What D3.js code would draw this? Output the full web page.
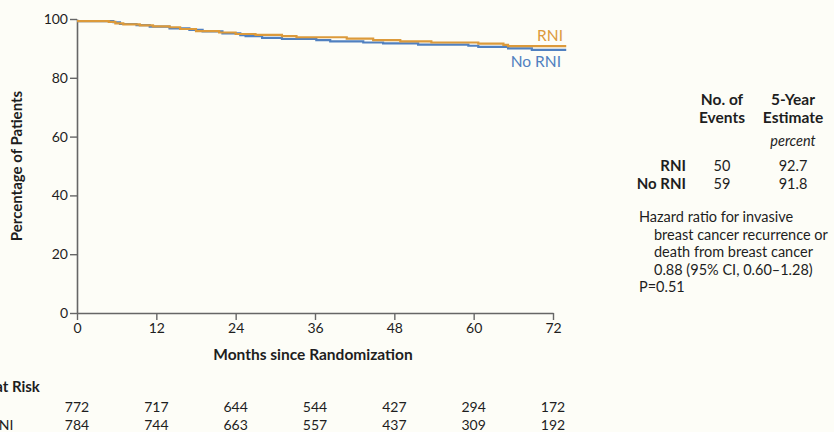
<!DOCTYPE html>
<html>
<head>
<meta charset="utf-8">
<script src="https://cdn.jsdelivr.net/npm/d3@7"></script>
<style>
  html, body { margin: 0; padding: 0; background: #fdfdf7; }
  svg { display: block; font-family: Lato, "Noto Sans", sans-serif; }
</style>
</head>
<body>
<svg id="chart" width="834" height="432"></svg>
<script>
// Kaplan–Meier step points: [month, percent free of event]
const rniCurve = [
  [0, 99.3], [4.8, 99.0], [5.8, 98.5], [7, 98.2], [9.5, 97.8], [11.5, 97.5],
  [14, 97.2], [15.6, 96.6], [18, 95.9], [21.5, 95.4], [24, 94.9], [27, 94.6],
  [31, 94.2], [33.2, 93.8], [40.8, 93.3], [44.8, 92.8], [48.9, 92.4],
  [53.6, 92.0], [60.7, 91.6], [64.5, 91.2], [65.2, 90.8], [74, 90.8]
];
const noRniCurve = [
  [0, 99.3], [5.5, 98.9], [6.5, 98.3], [9, 97.9], [11, 97.4], [14, 96.8],
  [17, 96.3], [19, 95.8], [22, 95.1], [24.7, 94.5], [25.5, 94.2], [28, 93.6],
  [31, 93.2], [36.2, 92.8], [38.3, 92.4], [43.3, 92.0], [46.3, 91.7],
  [51.6, 91.3], [59.2, 90.9], [60.7, 90.5], [65.2, 90.0], [68.8, 89.5], [74, 89.5]
];

const xTicks = [0, 12, 24, 36, 48, 60, 72];
const yTicks = [0, 20, 40, 60, 80, 100];

const atRiskRni = [772, 717, 644, 544, 427, 294, 172];
const atRiskNoRni = [784, 744, 663, 557, 437, 309, 192];

const groupNames = ["RNI", "No RNI"];
const eventCounts = [50, 59];
const fiveYearEstimates = ["92.7", "91.8"];

const hazardLines = [
  "Hazard ratio for invasive",
  "breast cancer recurrence or",
  "death from breast cancer",
  "0.88 (95% CI, 0.60\u20131.28)",
  "P=0.51"
];

const orange = "#dc9a3b";
const blue = "#5080c0";
const axisGray = "#666";
const ink = "#1e1e1e";

const svg = d3.select("#chart");

const x = d3.scaleLinear().domain([0, 72]).range([77, 553]);
const y = d3.scaleLinear().domain([0, 100]).range([313, 19]);

// Axes
const yAxis = svg.append("g")
  .attr("transform", `translate(${x(0)},0)`)
  .call(d3.axisLeft(y).tickValues(yTicks).tickSize(7).tickPadding(2).tickSizeOuter(0));
const xAxis = svg.append("g")
  .attr("transform", `translate(0,${y(0)})`)
  .call(d3.axisBottom(x).tickValues(xTicks).tickSize(7).tickPadding(3).tickSizeOuter(0));

[yAxis, xAxis].forEach(g => {
  g.select(".domain").attr("stroke", axisGray).attr("stroke-width", 1.6);
  g.selectAll(".tick line").attr("stroke", axisGray).attr("stroke-width", 1.4);
  g.selectAll(".tick text").attr("fill", ink).attr("font-size", 14)
    .attr("font-family", "Lato, sans-serif");
});

// Axis titles
svg.append("text")
  .attr("transform", `translate(22,${(y(0) + y(100)) / 2}) rotate(-90)`)
  .attr("text-anchor", "middle")
  .attr("font-weight", "bold").attr("font-size", 15).attr("fill", ink)
  .text("Percentage of Patients");

svg.append("text")
  .attr("x", x(36) - 2).attr("y", 360)
  .attr("text-anchor", "middle")
  .attr("font-weight", "bold").attr("font-size", 15.5).attr("fill", ink)
  .text("Months since Randomization");

// Survival curves
const line = d3.line()
  .x(d => x(d[0])).y(d => y(d[1]))
  .curve(d3.curveStepAfter);

svg.append("path").datum(noRniCurve)
  .attr("d", line).attr("fill", "none")
  .attr("stroke", blue).attr("stroke-width", 2.2);
svg.append("path").datum(rniCurve)
  .attr("d", line).attr("fill", "none")
  .attr("stroke", orange).attr("stroke-width", 2.2);

// Curve labels
svg.append("text")
  .attr("x", 563).attr("y", 41).attr("text-anchor", "end")
  .attr("font-size", 15.5).attr("fill", orange).text("RNI");
svg.append("text")
  .attr("x", 561).attr("y", 67).attr("text-anchor", "end")
  .attr("font-size", 15.5).attr("fill", blue).text("No RNI");

// Number at risk
const riskLeft = -32;
svg.append("text")
  .attr("x", riskLeft).attr("y", 392)
  .attr("font-weight", "bold").attr("font-size", 15).attr("fill", ink)
  .text("No. at Risk");

[[groupNames[0], atRiskRni, 412], [groupNames[1], atRiskNoRni, 430]].forEach(([name, vals, yy]) => {
  svg.append("text").attr("x", riskLeft).attr("y", yy)
    .attr("font-size", 14).attr("fill", ink).text(name);
  svg.append("g").selectAll("text").data(vals).join("text")
    .attr("x", (d, i) => x(xTicks[i]))
    .attr("y", yy)
    .attr("text-anchor", "middle")
    .attr("font-size", 14).attr("fill", ink)
    .text(d => d);
});

// Summary table
const colEvents = 722, colEst = 793, rowLabelRight = 686;
const headerRows = [["No. of", "5-Year", 105], ["Events", "Estimate", 123]];
headerRows.forEach(([a, b, yy]) => {
  svg.append("text").attr("x", colEvents).attr("y", yy).attr("text-anchor", "middle")
    .attr("font-weight", "bold").attr("font-size", 15.5).attr("fill", ink).text(a);
  svg.append("text").attr("x", colEst).attr("y", yy).attr("text-anchor", "middle")
    .attr("font-weight", "bold").attr("font-size", 15.5).attr("fill", ink).text(b);
});
svg.append("text").attr("x", colEst).attr("y", 146).attr("text-anchor", "middle")
  .attr("font-style", "italic").attr("font-size", 14.5).attr("fill", ink).text("percent");

groupNames.forEach((name, i) => {
  const yy = 171 + i * 18;
  svg.append("text").attr("x", rowLabelRight).attr("y", yy).attr("text-anchor", "end")
    .attr("font-weight", "bold").attr("font-size", 15).attr("fill", ink).text(name);
  svg.append("text").attr("x", colEvents).attr("y", yy).attr("text-anchor", "middle")
    .attr("font-size", 14.5).attr("fill", ink).text(eventCounts[i]);
  svg.append("text").attr("x", colEst).attr("y", yy).attr("text-anchor", "middle")
    .attr("font-size", 14.5).attr("fill", ink).text(fiveYearEstimates[i]);
});

hazardLines.forEach((t, i) => {
  const indent = (i > 0 && i < hazardLines.length - 1) ? 15 : 0;
  svg.append("text").attr("x", 639 + indent).attr("y", 222 + i * 17.6)
    .attr("font-size", 14.5).attr("fill", ink).text(t);
});
</script>
</body>
</html>
